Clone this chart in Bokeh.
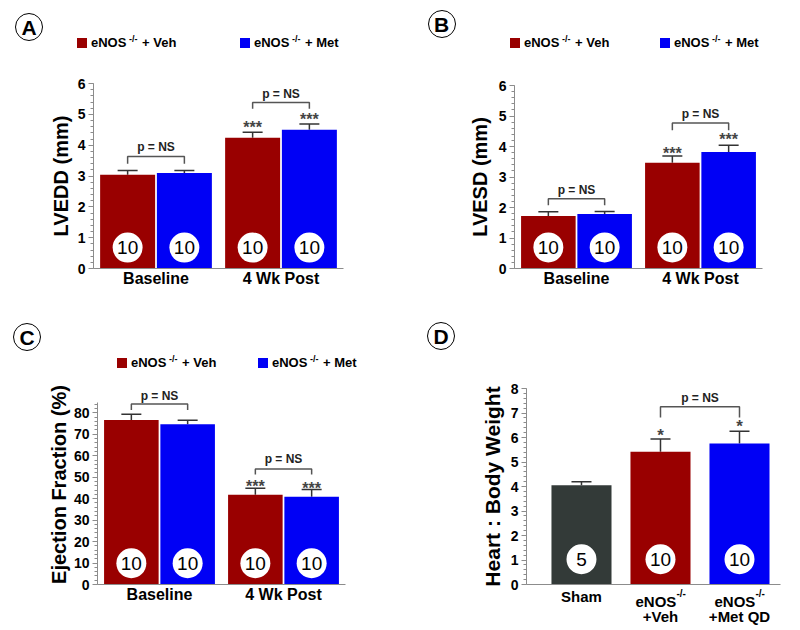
from bokeh.plotting import figure
from bokeh.models import (Range1d, FixedTicker, SingleIntervalTicker, Whisker,
                          TeeHead, ColumnDataSource, Div)
from bokeh.layouts import column, row
from bokeh.embed import file_html
from bokeh.resources import INLINE
from bokeh.core.properties import value

FONT = "Liberation Sans"
RED = "#990000"
BLUE = "#0000F5"
SHAM = "#333A38"
AXIS = "#8C8C8C"
DARK = "#333333"
BRK = "#555555"

# ---------------- data ----------------
time_points = ["Baseline", "4 Wk Post"]
legend_names = ["+ Veh", "+ Met"]
legend_base = "eNOS"
legend_sup = "-/-"

lvedd_veh = [3.04, 4.24]
lvedd_veh_err = [0.14, 0.18]
lvedd_met = [3.10, 4.50]
lvedd_met_err = [0.08, 0.19]
lvedd_n_veh = [10, 10]
lvedd_n_met = [10, 10]
lvedd_br_top = [3.63, 5.38]
lvedd_br_leg = [3.40, 5.18]
lvedd_br_text = [3.93, 5.67]
lvedd_star_veh = ["", "***"]
lvedd_star_met = ["", "***"]
lvedd_star_veh_y = [0.0, 4.58]
lvedd_star_met_y = [0.0, 4.82]

lvesd_veh = [1.72, 3.47]
lvesd_veh_err = [0.14, 0.22]
lvesd_met = [1.79, 3.82]
lvesd_met_err = [0.08, 0.22]
lvesd_n_veh = [10, 10]
lvesd_n_met = [10, 10]
lvesd_br_top = [2.29, 4.77]
lvesd_br_leg = [2.07, 4.53]
lvesd_br_text = [2.59, 5.05]
lvesd_star_veh = ["", "***"]
lvesd_star_met = ["", "***"]
lvesd_star_veh_y = [0.0, 3.78]
lvesd_star_met_y = [0.0, 4.24]

ef_veh = [76.6, 41.8]
ef_veh_err = [2.7, 3.0]
ef_met = [74.7, 40.9]
ef_met_err = [1.8, 3.4]
ef_n_veh = [10, 10]
ef_n_met = [10, 10]
ef_br_top = [84.1, 53.8]
ef_br_leg = [81.3, 51.3]
ef_br_text = [87.8, 58.3]
ef_star_veh = ["", "***"]
ef_star_met = ["", "***"]
ef_star_veh_y = [0.0, 45.7]
ef_star_met_y = [0.0, 44.9]

hw_groups = ["Sham", "eNOS-/- +Veh", "eNOS-/- +Met QD"]
hw_mean = [4.05, 5.42, 5.76]
hw_err = [0.14, 0.52, 0.50]
hw_n = [5, 10, 10]
hw_colors = [SHAM, RED, BLUE]
hw_star = ["", "*", "*"]
hw_star_y = [0.0, 6.08, 6.45]
hw_br_pair = [1, 2]
hw_br_top = 7.26
hw_br_leg = 6.82
hw_br_text = 7.62


# ---------------- helpers ----------------
def base_fig(fw, fh, bl, br, bt, bb, x0, x1, y1):
    p = figure(frame_width=fw, frame_height=fh, min_border_left=bl, min_border_right=br,
               min_border_top=bt, min_border_bottom=bb,
               x_range=Range1d(x0, x1), y_range=Range1d(0, y1),
               output_backend="svg", toolbar_location=None, tools="")
    p.outline_line_color = None
    p.xgrid.visible = False
    p.ygrid.visible = False
    p.background_fill_color = "white"
    p.border_fill_color = "white"
    return p


def style_axes(p, xticks, xlabels, xsize, xstand, yint, ybounds, ylabel, ysize, ystand):
    xa = p.xaxis[0]
    xa.ticker = FixedTicker(ticks=xticks, minor_ticks=[])
    xa.major_label_overrides = {t: l for t, l in zip(xticks, xlabels)}
    xa.major_tick_out = 0
    xa.major_tick_in = 0
    xa.minor_tick_out = 0
    xa.axis_line_color = AXIS
    xa.major_label_text_font = FONT
    xa.major_label_text_font_style = "bold"
    xa.major_label_text_font_size = f"{xsize}px"
    xa.major_label_text_color = "black"
    xa.major_label_standoff = xstand

    ya = p.yaxis[0]
    ya.ticker = SingleIntervalTicker(interval=yint, num_minor_ticks=5)
    ya.bounds = ybounds
    ya.axis_line_color = AXIS
    ya.major_tick_line_color = AXIS
    ya.minor_tick_line_color = AXIS
    ya.major_tick_out = 5
    ya.major_tick_in = 0
    ya.minor_tick_out = 3
    ya.minor_tick_in = 0
    ya.major_label_text_font = FONT
    ya.major_label_text_font_style = "bold"
    ya.major_label_text_font_size = "14px"
    ya.major_label_text_color = "black"
    ya.major_label_standoff = 3
    ya.axis_label = ylabel
    ya.axis_label_text_font = FONT
    ya.axis_label_text_font_style = "bold"
    ya.axis_label_text_font_size = f"{ysize}px"
    ya.axis_label_text_color = "black"
    ya.axis_label_standoff = ystand


def txt(p, xs, ys, texts, size, style="bold", align="left", color="black", x_offset=0):
    p.text(x=xs, y=ys, text=texts, text_font=value(FONT), text_font_size=f"{size}px",
           text_font_style=style, text_align=align, text_baseline="middle",
           text_color=color, x_offset=x_offset)


def bars_with_err(p, xs, means, errs, colors, width):
    src = ColumnDataSource(dict(x=xs, top=means,
                                upper=[m + e for m, e in zip(means, errs)],
                                color=colors))
    p.add_layout(Whisker(source=src, base="x", upper="upper", lower="top",
                         dimension="height", line_color=DARK, line_width=1.5,
                         upper_head=TeeHead(size=20, line_color=DARK, line_width=1.5),
                         lower_head=None))
    p.vbar(x="x", top="top", bottom=0, width=width, source=src,
           fill_color="color", line_color=None)


def n_circles(p, xs, ns, ny):
    p.scatter(x=xs, y=[ny] * len(xs), size=30, marker="circle",
              fill_color="white", line_color=None)
    txt(p, xs, [ny] * len(xs), [str(n) for n in ns], 19, style="normal", align="center")


def bracket(p, x0, x1, top, leg, ty):
    p.multi_line(xs=[[a, a, b, b] for a, b in zip(x0, x1)],
                 ys=[[l, t, t, l] for t, l in zip(top, leg)],
                 line_color=BRK, line_width=1.5)
    txt(p, [(a + b) / 2 for a, b in zip(x0, x1)], ty, ["p = NS"] * len(x0), 12,
        align="center", color="#222222")


def stars(p, xs, labels, ys, size):
    txt(p, xs, ys, labels, size, align="center", color="#444444")


def two_group_panel(fw, fh, bl, br, bt, bb, y1, ybounds, yint, ylabel, ystand,
                    veh, veh_err, met, met_err, n_veh, n_met, ny,
                    br_top, br_leg, br_text, s_veh, s_veh_y, s_met, s_met_y):
    p = base_fig(fw, fh, bl, br, bt, bb, -0.5, len(time_points) - 0.5, y1)
    style_axes(p, list(range(len(time_points))), time_points, 16, 1,
               yint, ybounds, ylabel, 20, ystand)
    off, w = 0.227, 0.44
    g = list(range(len(time_points)))
    xv = [i - off for i in g]
    xm = [i + off for i in g]
    bars_with_err(p, xv, veh, veh_err, [RED] * len(g), w)
    bars_with_err(p, xm, met, met_err, [BLUE] * len(g), w)
    n_circles(p, xv + xm, n_veh + n_met, ny)
    bracket(p, xv, xm, br_top, br_leg, br_text)
    stars(p, xv, s_veh, s_veh_y, 16)
    stars(p, xm, s_met, s_met_y, 16)
    return p


def abs_box(left, top, inner, extra=""):
    return (f'<div style="position:absolute;left:{left}px;top:{top}px;'
            f'white-space:nowrap;{extra}">{inner}</div>')


def header(w, h, ch, cpos, leg):
    cx, cy = cpos
    parts = [f'<div style="position:relative;width:{w}px;height:{h}px;overflow:visible;'
             f'font-family:\'{FONT}\',Arial,sans-serif;color:#000;">']
    parts.append(abs_box(cx - 15, cy - 15, ch,
                         "width:28px;height:28px;border:1px solid #000;border-radius:50%;"
                         "text-align:center;line-height:28px;font-size:21px;font-weight:bold;"
                         "background:#fff;"))
    if leg is not None:
        ly = leg[2]
        for sx, color, suffix in [(leg[0], RED, legend_names[0]),
                                  (leg[1], BLUE, legend_names[1])]:
            parts.append(abs_box(sx - 5, ly - 5, "",
                                 f"width:10px;height:10px;background:{color};"))
            parts.append(abs_box(sx + 9, ly - 8, legend_base,
                                 "font-size:13px;line-height:16px;font-weight:bold;"))
            parts.append(abs_box(sx + 47, ly - 10, legend_sup,
                                 "font-size:9px;line-height:12px;font-weight:bold;"))
            parts.append(abs_box(sx + 60, ly - 8, suffix,
                                 "font-size:13px;line-height:16px;font-weight:bold;"))
    parts.append("</div>")
    return Div(text="".join(parts), width=w, height=h, margin=(0, 0, 0, 0))


LEFT_W, RIGHT_W = 408, 390

# ---------------- panel A ----------------
hA = header(LEFT_W, 56, "A", (30, 27.5), (82, 245, 43))
pA = two_group_panel(250, 185, 93, 65, 27, 52, 6, (0, 6), 1, "LVEDD (mm)", 3,
                     lvedd_veh, lvedd_veh_err, lvedd_met, lvedd_met_err,
                     lvedd_n_veh, lvedd_n_met, 0.68,
                     lvedd_br_top, lvedd_br_leg, lvedd_br_text,
                     lvedd_star_veh, lvedd_star_veh_y, lvedd_star_met, lvedd_star_met_y)

# ---------------- panel B ----------------
hB = header(RIGHT_W, 56, "B", (34.5, 25), (107, 257, 43))
pB = two_group_panel(248, 183, 106, 36, 29, 52, 6, (0, 6), 1, "LVESD (mm)", 5,
                     lvesd_veh, lvesd_veh_err, lvesd_met, lvesd_met_err,
                     lvesd_n_veh, lvesd_n_met, 0.69,
                     lvesd_br_top, lvesd_br_leg, lvesd_br_text,
                     lvesd_star_veh, lvesd_star_veh_y, lvesd_star_met, lvesd_star_met_y)

# ---------------- panel C ----------------
hC = header(LEFT_W, 55, "C", (28, 18), (122, 263, 43))
pC = two_group_panel(248, 200, 97, 63, 9, 44, 93.2, (0, 85), 10,
                     "Ejection Fraction (%)", 1,
                     ef_veh, ef_veh_err, ef_met, ef_met_err,
                     ef_n_veh, ef_n_met, 9.9,
                     ef_br_top, ef_br_leg, ef_br_text,
                     ef_star_veh, ef_star_veh_y, ef_star_met, ef_star_met_y)

# ---------------- panel D ----------------
hD = header(RIGHT_W, 40, "D", (34, 17), None)
pD = base_fig(254, 196, 118, 18, 28, 14, -0.696, 2.519, 8)
hx = list(range(len(hw_groups)))
style_axes(pD, hx, ["", "", ""], 15, 0, 1, (0, 8), "Heart : Body Weight", 21, 4)
pD.xaxis[0].major_label_text_font_size = "0px"
bars_with_err(pD, hx, hw_mean, hw_err, hw_colors, 0.76)
n_circles(pD, hx, hw_n, 1.03)
bracket(pD, [hx[hw_br_pair[0]]], [hx[hw_br_pair[1]]], [hw_br_top], [hw_br_leg], [hw_br_text])
stars(pD, hx, hw_star, hw_star_y, 17)

# category labels of panel D (with superscripts), on a transparent strip that shares D's x scale
fD = figure(frame_width=254, frame_height=40, min_border_left=118, min_border_right=18,
            min_border_top=0, min_border_bottom=0, x_range=pD.x_range,
            y_range=Range1d(40, 0), x_axis_type=None, y_axis_type=None,
            output_backend="svg", toolbar_location=None, tools="")
fD.outline_line_color = None
fD.xgrid.visible = False
fD.ygrid.visible = False
fD.background_fill_alpha = 0
fD.border_fill_alpha = 0
fD.margin = (-10, 0, 0, 0)
for i, name in enumerate(hw_groups):
    if name.startswith("eNOS"):
        first, second = name.split(" ", 1)
        base, sup = first[:4], first[4:]
        txt(fD, [hx[i]], [13], [base], 15, x_offset=-25)
        txt(fD, [hx[i]], [5], [sup], 10, x_offset=16)
        txt(fD, [hx[i]], [28], [second], 15, align="center")
    else:
        txt(fD, [hx[i]], [8], [name], 15, align="center")

layout = column(row(column(hA, pA), column(hB, pB)),
                row(column(hC, pC), column(hD, pD, fD)))
open("out.html", "w").write(file_html(layout, INLINE))
